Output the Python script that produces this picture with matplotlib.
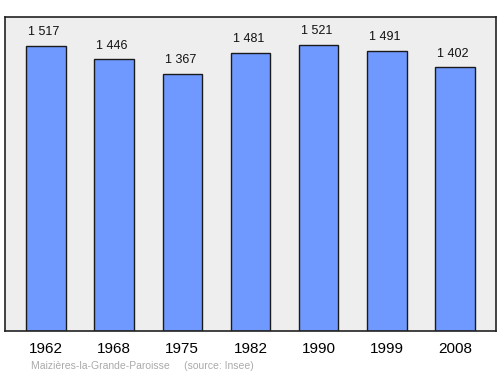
import matplotlib
matplotlib.use('Agg')
import matplotlib.pyplot as plt

plt.rcParams['font.family'] = ['Liberation Sans', 'DejaVu Sans']

years = ['1962', '1968', '1975', '1982', '1990', '1999', '2008']
population = [1517, 1446, 1367, 1481, 1521, 1491, 1402]
value_labels = ['1 517', '1 446', '1 367', '1 481', '1 521', '1 491', '1 402']

fig = plt.figure(figsize=(5, 3.74), dpi=100)
ax = fig.add_axes([5/500, 1-331/374, 491/500, (331-17)/374])
ax.set_facecolor('#eeeeee')

xs = range(len(years))
ax.bar(xs, population, width=0.58, color='#7099ff', edgecolor='#1a1a1a', linewidth=1.0)
for x, v, lab in zip(xs, population, value_labels):
    ax.text(x - 0.03, v + 40, lab, ha='center', va='bottom', fontsize=9, color='#111111')

ax.set_xlim(-0.6, 6.6)
ax.set_ylim(0, 1670)
ax.set_yticks([])
ax.set_xticks(list(xs))
ax.set_xticklabels(years, fontsize=11)
ax.tick_params(axis='x', length=0, pad=8)
for s in ax.spines.values():
    s.set_linewidth(1.2)
    s.set_color('#222222')

fig.text(31/500, 1-366/374, 'Maizières-la-Grande-Paroisse     (source: Insee)',
         fontsize=7.5, color='#aaaaaa', va='center', ha='left')

fig.savefig('out.png', dpi=100)
